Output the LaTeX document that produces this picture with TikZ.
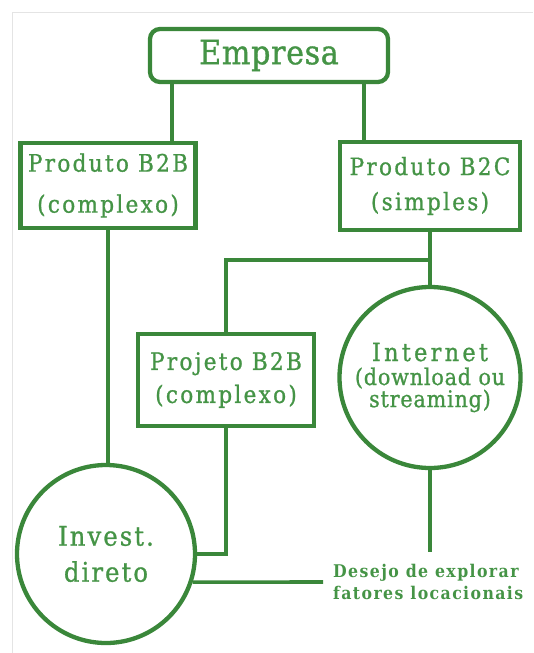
\documentclass[tikz,border=0pt]{standalone}
\usepackage{fontspec}
\newfontfamily\boxfont[LetterSpace=9.5,FakeBold=1.0]{DejaVu Serif Condensed}
\newfontfamily\empfont[LetterSpace=2,FakeBold=1.0]{DejaVu Serif Condensed}
\newfontfamily\netfont[LetterSpace=13,FakeBold=1.0]{DejaVu Serif Condensed}
\newfontfamily\subfont[LetterSpace=3.6,FakeBold=1.0]{DejaVu Serif Condensed}
\newfontfamily\invfont[LetterSpace=7.7,FakeBold=1.0]{DejaVu Serif Condensed}
\newfontfamily\desfont[LetterSpace=8]{DejaVu Serif Condensed Bold}
\definecolor{lc}{HTML}{3A873A}
\definecolor{tc}{HTML}{459446}
\definecolor{fr}{HTML}{E4E4E4}
\begin{document}
\begin{tikzpicture}[x=1pt,y=-1pt,
  boxn/.style={draw=lc, line width=4.3pt, inner sep=0pt, text=tc, align=center},
  circ/.style={circle, draw=lc, line width=4.3pt, inner sep=0pt, text=tc, align=center},
  conn/.style={draw=lc, line width=3.6pt},
  frame/.style={draw=fr, line width=1pt}]
\useasboundingbox (0,0) rectangle (533,653);
\coordinate (fa) at (12,653);
\coordinate (fb) at (12,12);
\coordinate (fc) at (533,12);
\draw[frame] (fa) -- (fb) -- (fc);

\node[boxn, rounded corners=10pt, minimum width=238pt, minimum height=53pt,
  font=\empfont\fontsize{33.5}{33}\selectfont] (emp) at (269,55.5) {Empresa};
\node[boxn, minimum width=175pt, minimum height=85pt,
  font=\boxfont\fontsize{24}{41}\selectfont] (b2b) at (108,185.5) {Produto B2B\\(complexo)};
\node[boxn, minimum width=180pt, minimum height=88pt,
  font=\boxfont\fontsize{24}{35}\selectfont] (b2c) at (430,186) {Produto B2C\\(simples)};
\node[boxn, minimum width=176pt, minimum height=92pt,
  font=\boxfont\fontsize{24}{33}\selectfont] (proj) at (226,380) {Projeto B2B\\(complexo)};
\node[circ, minimum size=181pt, font=\subfont\fontsize{23}{19}\selectfont] (net) at (430,377.5)
  {{\netfont\fontsize{25}{19}\selectfont Internet}\\[5pt](download ou\\streaming)};
\node[circ, minimum size=178pt, font=\invfont\fontsize{27}{36}\selectfont] (inv) at (106,554)
  {Invest.\\direto};
\node[text=tc, align=left, anchor=west, inner xsep=10pt, inner ysep=12pt,
  font=\desfont\fontsize{17.5}{22}\selectfont] (des) at (323,582)
  {Desejo de explorar\\fatores locacionais};

\coordinate (xa) at (172,0);
\coordinate (xb) at (364,0);
\coordinate (jn) at (430,260);
\draw[conn] (xa |- emp.south) -- (xa |- b2b.north);
\draw[conn] (xb |- emp.south) -- (xb |- b2c.north);
\draw[conn] (b2c.south) -- (net.north);
\draw[conn] (jn) -| (proj.north);
\draw[conn] (b2b.south) -- (b2b.south |- inv.north);
\draw[conn] (proj.south) |- (inv);
\draw[conn] (net.south) -- (net.south |- des.north);
\draw[conn] (des.west) -- (inv.-18.3);
\end{tikzpicture}
\end{document}
